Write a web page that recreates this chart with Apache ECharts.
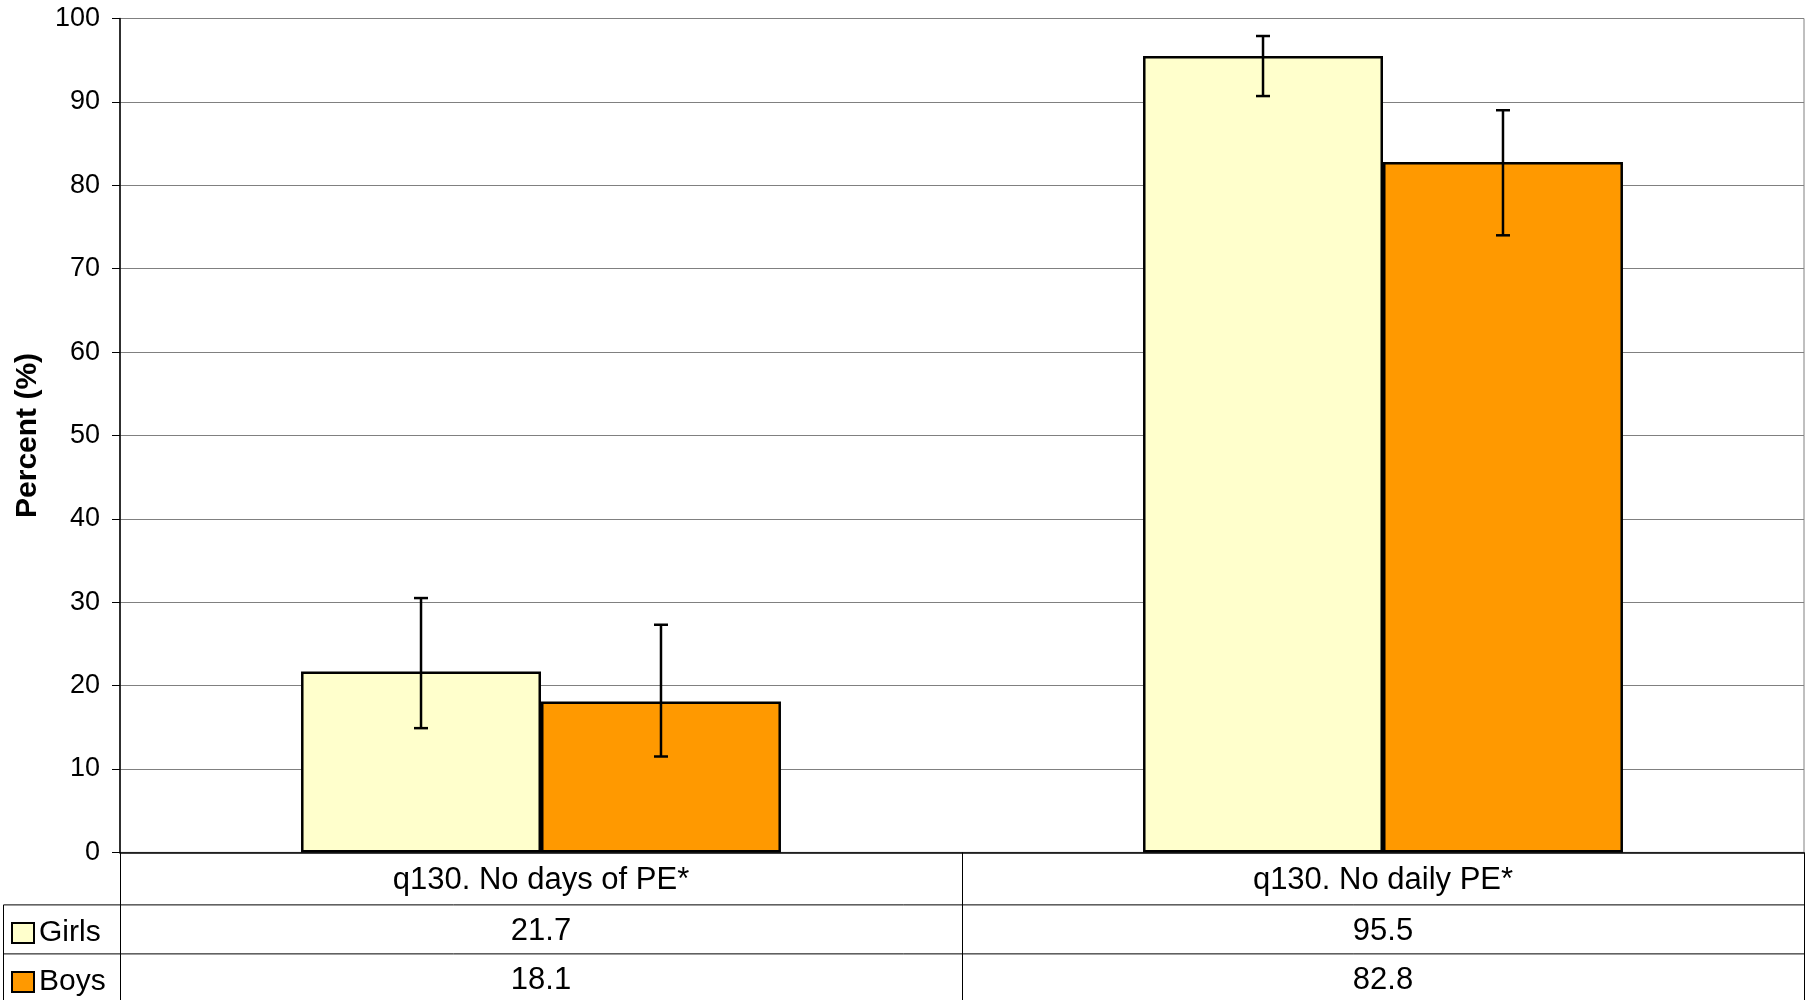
<html lang="en">
<head>
    <meta charset="UTF-8">
    <title>q130 PE</title>
    <script src="https://cdn.jsdelivr.net/npm/echarts@6/dist/echarts.min.js"></script>
    <style>
        html, body { margin: 0; padding: 0; background: #fff; }
        #chart { width: 1811px; height: 1000px; }
    </style>
</head>
<body>
<div id="chart"></div>
<script type="text/javascript">
    // data
    var categories = ['q130. No days of PE*', 'q130. No daily PE*'];
    var girls = [21.7, 95.5];
    var boys = [18.1, 82.8];
    var girlsLow = [14.9, 90.7];
    var girlsHigh = [30.5, 97.9];
    var boysLow = [11.5, 74.0];
    var boysHigh = [27.3, 89.0];
    var yMin = 0, yMax = 100, yStep = 10;

    var FONT = "'Liberation Sans', Arial, sans-serif";
    var gridLeft = 120, gridRight = 7, gridTop = 18.5, gridBottom = 147.6;
    var catGap = 0.43;

    function errData(lo, hi) {
        var out = [];
        for (var i = 0; i < lo.length; i++) out.push([i, lo[i], hi[i]]);
        return out;
    }

    // side: -1 = left bar (Girls), 1 = right bar (Boys)
    function errorRender(side) {
        return function (params, api) {
            var x = api.value(0);
            var lo = api.coord([x, api.value(1)]);
            var hi = api.coord([x, api.value(2)]);
            var band = api.size([1, 0])[0];
            var barW = band * (1 - catGap) / 2;
            var cx = lo[0] + side * barW / 2;
            var cap = 7;
            var st = {stroke: '#000', lineWidth: 2.5};
            return {
                type: 'group',
                children: [
                    {type: 'line', shape: {x1: cx, y1: hi[1], x2: cx, y2: lo[1]}, style: st},
                    {type: 'line', shape: {x1: cx - cap, y1: hi[1], x2: cx + cap, y2: hi[1]}, style: st},
                    {type: 'line', shape: {x1: cx - cap, y1: lo[1], x2: cx + cap, y2: lo[1]}, style: st}
                ]
            };
        };
    }

    var myChart = echarts.init(document.getElementById('chart'));
    var H = 1000;
    var base = H - gridBottom;
    var row1 = 52.5, row2 = 49;

    function legendAt(name, top) {
        return {
            data: [name],
            left: 11,
            top: top,
            padding: 0,
            itemWidth: 22,
            itemHeight: 20,
            itemGap: 6,
            icon: 'rect',
            itemStyle: {borderColor: '#000', borderWidth: 2},
            textStyle: {fontFamily: FONT, fontSize: 30, color: '#000'}
        };
    }

    var option = {
        backgroundColor: '#fff',
        animation: false,
        textStyle: {fontFamily: FONT, color: '#000'},
        grid: {
            left: gridLeft, right: gridRight, top: gridTop, bottom: gridBottom,
            show: true, borderColor: '#808080', borderWidth: 1
        },
        legend: [legendAt('Girls', 918), legendAt('Boys', 967)],
        xAxis: {
            type: 'category',
            data: categories,
            axisLine: {show: true, lineStyle: {color: '#000', width: 1.5}},
            axisTick: {show: true, length: gridBottom, lineStyle: {color: '#000', width: 1}},
            axisLabel: {
                margin: 2,
                interval: 0,
                formatter: function (value, idx) {
                    return '{c|' + value + '}\n{v|' + girls[idx].toFixed(1) + '}\n{v|' + boys[idx].toFixed(1) + '}';
                },
                rich: {
                    c: {fontFamily: FONT, fontSize: 31, lineHeight: row1, color: '#000'},
                    v: {fontFamily: FONT, fontSize: 31, lineHeight: row2, color: '#000'}
                }
            },
            splitLine: {show: false}
        },
        yAxis: {
            type: 'value',
            min: yMin,
            max: yMax,
            interval: yStep,
            name: 'Percent (%)',
            nameLocation: 'middle',
            nameGap: 77,
            nameTextStyle: {fontFamily: FONT, fontWeight: 'bold', fontSize: 30, color: '#000'},
            axisLine: {show: true, lineStyle: {color: '#000', width: 1.5}},
            axisTick: {show: true, length: 8, lineStyle: {color: '#000'}},
            axisLabel: {fontFamily: FONT, fontSize: 27, color: '#000', margin: 20},
            splitLine: {show: true, lineStyle: {color: '#808080', width: 1}}
        },
        graphic: [
            {type: 'line', shape: {x1: 3.5, y1: base + row1, x2: 1811 - gridRight, y2: base + row1}, style: {stroke: '#000', lineWidth: 1}},
            {type: 'line', shape: {x1: 3.5, y1: base + row1 + row2, x2: 1811 - gridRight, y2: base + row1 + row2}, style: {stroke: '#000', lineWidth: 1}},
            {type: 'line', shape: {x1: 3.5, y1: base + row1, x2: 3.5, y2: H}, style: {stroke: '#000', lineWidth: 1}}
        ],
        series: [
            {
                name: 'Girls',
                type: 'bar',
                data: girls,
                barGap: '0%',
                barCategoryGap: (catGap * 100) + '%',
                itemStyle: {color: '#FFFFCC', borderColor: '#000', borderWidth: 2.5}
            },
            {
                name: 'Boys',
                type: 'bar',
                data: boys,
                barGap: '0%',
                barCategoryGap: (catGap * 100) + '%',
                itemStyle: {color: '#FF9900', borderColor: '#000', borderWidth: 2.5}
            },
            {
                name: 'Girls CI',
                type: 'custom',
                z: 5,
                renderItem: errorRender(-1),
                data: errData(girlsLow, girlsHigh)
            },
            {
                name: 'Boys CI',
                type: 'custom',
                z: 5,
                renderItem: errorRender(1),
                data: errData(boysLow, boysHigh)
            }
        ]
    };

    myChart.setOption(option);
</script>
</body>
</html>
